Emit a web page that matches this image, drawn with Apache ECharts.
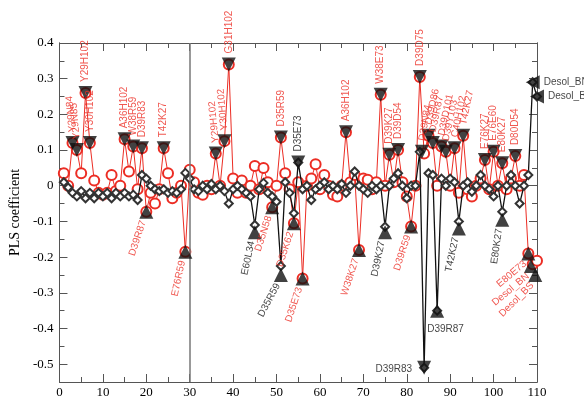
<!DOCTYPE html>
<html>
<head>
<meta charset="utf-8">
<script src="https://cdn.jsdelivr.net/npm/echarts@6/dist/echarts.min.js"></script>
<style>
html,body{margin:0;padding:0;background:#fff;}
#chart{width:584px;height:399px;}
</style>
</head>
<body>
<div id="chart"></div>
<script>
// PLS coefficients, one value per descriptor 1..110
var redY = [
	0.035, 0.00, 0.12, 0.10, 0.035, 0.26, 0.12, 0.015, -0.02, -0.025,
	-0.02, 0.03, -0.015, 0.00, 0.13, 0.04, 0.11, -0.01, 0.105, -0.073,
	-0.02, -0.05, -0.01, 0.105, 0.035, -0.035, -0.02, 0.00, -0.185, 0.045,
	0.01, -0.02, -0.025, 0.00, -0.01, 0.09, 0.00, 0.125, 0.34, 0.02,
	-0.02, 0.015, -0.02, 0.00, 0.055, -0.01, 0.05, 0.01, -0.06, 0.00,
	0.135, 0.035, -0.01, -0.105, 0.01, -0.26, 0.00, 0.02, 0.06, -0.01,
	0.03, 0.00, -0.025, -0.03, 0.00, 0.15, 0.01, 0.03, -0.18, 0.02,
	0.017, -0.01, 0.01, 0.255, 0.00, 0.087, 0.01, 0.10, 0.01, -0.03,
	-0.114, 0.00, 0.305, 0.09, 0.14, 0.12, 0.00, 0.11, 0.095, 0.00,
	0.105, -0.02, 0.14, -0.01, -0.03, 0.00, 0.02, 0.072, -0.01, 0.095,
	0.00, 0.063, -0.01, 0.02, 0.083, 0.00, 0.03, -0.19, -0.22, -0.21
];
var blackY = [
	0.01, -0.005, -0.02, -0.03, -0.015, -0.035, -0.02, -0.035, -0.02, -0.03,
	-0.02, -0.035, -0.02, -0.03, -0.02, -0.03, -0.025, -0.04, 0.03, 0.02,
	0.00, -0.01, -0.015, -0.01, -0.02, -0.015, -0.02, -0.01, 0.036, 0.02,
	-0.01, -0.015, 0.00, -0.01, 0.005, -0.01, 0.00, -0.015, -0.05, -0.01,
	0.00, -0.01, -0.02, -0.03, -0.11, -0.01, 0.008, -0.02, -0.03, -0.045,
	-0.225, 0.01, -0.02, -0.077, 0.065, -0.01, 0.00, -0.04, -0.01, 0.00,
	0.01, -0.01, 0.00, -0.01, 0.005, -0.02, 0.00, 0.04, 0.00, -0.01,
	-0.02, 0.00, -0.01, 0.00, -0.115, 0.00, 0.02, 0.035, 0.00, -0.035,
	0.00, 0.00, 0.095, -0.51, 0.035, 0.03, -0.35, 0.02, 0.00, 0.02,
	0.01, -0.10, 0.00, 0.01, -0.017, 0.00, 0.03, 0.00, -0.01, -0.03,
	0.00, -0.073, 0.00, 0.03, 0.00, -0.05, 0.00, 0.03, 0.29, 0.25
];
var yTicks = [-0.5, -0.4, -0.3, -0.2, -0.1, 0, 0.1, 0.2, 0.3, 0.4];
var yMinorTicks = [-0.55, -0.45, -0.35, -0.25, -0.15, -0.05, 0.05, 0.15, 0.25, 0.35];

// labelled points
var annoNames = [
	'Y29N84','Y29N85','Y29H102','Y30H102','A36H102','W38R59','D39R83','T42K27',
	'Y29H102','Y30H102','G31H102','D35R59','A36H102','W38E73','D39K27','D39D54',
	'D39N84','D39D75','D39D86','D39R87','D39D101','D39Y103','C40H102','T42K27',
	'E76K27','E76E60','E80K27','D80D54','D35E73','Desol_BN','Desol_BS',
	'D39R87','E76R59','D35N58','D35K62','D35E73','W38K27','D39R59','E80E73','Desol_BN','Desol_BS',
	'E60L34','D35R59','D39K27','D39R83','D39R87','T42K27','E80K27'
];
var annoX = [
	3, 4, 6, 7, 15, 17, 19, 24,
	36, 38, 39, 51, 66, 74, 76, 78,
	83.5, 83, 85, 86, 88, 89, 91, 93,
	98, 100, 102, 105, 55, 109, 110,
	20, 29, 49, 54, 56, 69, 81, 108, 108.6, 109.6,
	45, 51, 75, 84, 87, 92, 102
];
var annoY = [
	0.12, 0.10, 0.26, 0.12, 0.13, 0.11, 0.105, 0.105,
	0.09, 0.125, 0.34, 0.135, 0.15, 0.255, 0.087, 0.10,
	0.095, 0.305, 0.14, 0.12, 0.11, 0.095, 0.105, 0.14,
	0.072, 0.095, 0.063, 0.083, 0.065, 0.29, 0.25,
	-0.073, -0.185, -0.06, -0.105, -0.26, -0.18, -0.114, -0.19, -0.225, -0.25,
	-0.13, -0.25, -0.13, -0.51, -0.35, -0.12, -0.095
];
var annoColor = [
	'r','r','r','r','r','r','r','r',
	'r','r','r','r','r','r','r','r',
	'r','r','r','r','r','r','r','r',
	'r','r','r','r','k','k','k',
	'r','r','r','r','r','r','r','r','r','r',
	'k','k','k','k','k','k','k'
];
var annoSide = [
	'up','up','up','up','up','up','up','up',
	'up','up','up','up','up','up','up','up',
	'up','up','up','up','up','up','up','up',
	'up','up','up','up','up','right','right',
	'down','down','down','down','down','down','down','down','down','down',
	'down','down','down','left','below','down','down'
];
var annoRotate = [
	95, 95, 90, 90, 90, 90, 90, 90,
	95, 95, 90, 90, 90, 90, 90, 90,
	80, 90, 78, 78, 78, 78, 78, 78,
	90, 90, 90, 90, 90, 0, 0,
	72, 78, 72, 72, 72, 72, 72, 40, 40, 45,
	78, 62, 78, 0, 0, 78, 82
];

var RED = '#ec2d24';
var BLACK = '#111';

function $each(arr, fn){ for (var i = 0; i < arr.length; i++) fn(arr[i], i); }

function toPoints(arr){
	var out = [];
	$each(arr, function(v, i){ out.push([i + 1, v]); });
	return out;
}

function annoPoints(){
	var s = 14, c = s / 2;
	var out = [];
	$each(annoNames, function(name, i){
		var side = annoSide[i];
		var lab = {
			show: true, formatter: name, fontSize: 10, fontFamily: 'Liberation Sans',
			color: annoColor[i] === 'r' ? RED : BLACK, rotate: annoRotate[i]
		};
		var rot = 0;
		if (side === 'up') {
			rot = 180; lab.align = 'left'; lab.verticalAlign = 'middle'; lab.position = [c, c - 11];
		} else if (side === 'down') {
			lab.align = 'right'; lab.verticalAlign = 'middle'; lab.position = [c - 3, c + 9];
		} else if (side === 'left') {
			rot = 180; lab.align = 'right'; lab.verticalAlign = 'middle'; lab.position = [c - 12, c + 2];
		} else if (side === 'right') {
			rot = 90; lab.align = 'left'; lab.verticalAlign = 'middle'; lab.position = [s + 4, c];
		} else {
			lab.align = 'left'; lab.verticalAlign = 'top'; lab.position = [c - 10, c + 14];
		}
		out.push({ value: [annoX[i], annoY[i]], symbolRotate: rot, label: lab });
	});
	return out;
}

var axisCol = '#555';
function xAx(pos, showLabel){
	return {
		type: 'value', min: 0, max: 110, interval: 10, position: pos,
		axisLine: { show: true, onZero: false, lineStyle: { color: axisCol, width: 1 } },
		axisTick: { show: true, inside: true, length: 8, lineStyle: { color: axisCol } },
		minorTick: { show: true, splitNumber: 2, length: 5, lineStyle: { color: axisCol } },
		splitLine: { show: false },
		axisLabel: { show: showLabel, color: '#000', fontFamily: 'Liberation Serif', fontSize: 13, margin: 4 }
	};
}
function yAx(pos, ticks, len, showLabel){
	var a = {
		type: 'value', min: -0.55, max: 0.4, position: pos,
		axisLine: { show: true, onZero: false, lineStyle: { color: axisCol, width: 1 } },
		axisTick: { show: true, inside: true, length: len, customValues: ticks, lineStyle: { color: axisCol } },
		splitLine: { show: false },
		axisLabel: { show: showLabel, customValues: ticks, color: '#000', fontFamily: 'Liberation Serif', fontSize: 13, margin: 6 }
	};
	if (showLabel) {
		a.name = 'PLS coefficient';
		a.nameLocation = 'middle';
		a.nameGap = 31;
		a.nameTextStyle = { fontFamily: 'Liberation Serif', fontSize: 14, color: '#000' };
	}
	return a;
}

var chart = echarts.init(document.getElementById('chart'));
chart.setOption({
	animation: false,
	backgroundColor: '#fff',
	grid: { left: 53, right: 47, top: 43, bottom: 17 },
	xAxis: [ xAx('bottom', true), xAx('top', false) ],
	yAxis: [
		yAx('left', yTicks, 8, true),
		yAx('left', yMinorTicks, 5, false),
		yAx('right', yTicks, 8, false),
		yAx('right', yMinorTicks, 5, false)
	],
	series: [
		{
			type: 'line', data: toPoints(redY), z: 2,
			symbol: 'emptyCircle', symbolSize: 10,
			lineStyle: { color: RED, width: 1 },
			itemStyle: { color: RED, borderWidth: 1 },
			markLine: {
				silent: true, symbol: 'none', label: { show: false },
				lineStyle: { color: '#777', width: 1.5, type: 'solid' },
				data: [ { xAxis: 30 } ]
			}
		},
		{
			type: 'line', data: toPoints(blackY), z: 3,
			symbol: 'emptyDiamond', symbolSize: 8,
			lineStyle: { color: BLACK, width: 1.3 },
			itemStyle: { color: '#333', borderWidth: 1 }
		},
		{
			type: 'scatter', data: annoPoints(), z: 5,
			symbol: 'triangle', symbolSize: 14,
			itemStyle: { color: BLACK }
		}
	]
});
</script>
</body>
</html>
